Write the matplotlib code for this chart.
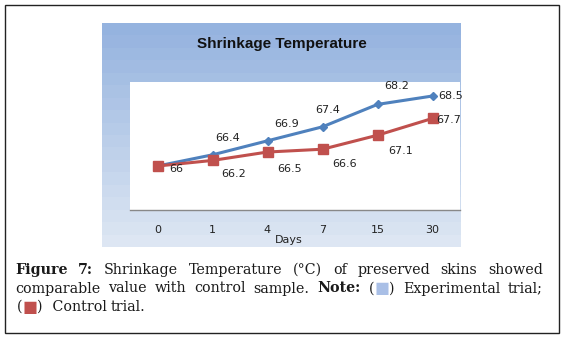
import numpy as np
import matplotlib
matplotlib.use("Agg")
import matplotlib.pyplot as plt
from matplotlib.patches import Rectangle

# data
days = ["0", "1", "4", "7", "15", "30"]
experimental = [66.0, 66.4, 66.9, 67.4, 68.2, 68.5]
control = [66.0, 66.2, 66.5, 66.6, 67.1, 67.7]

W, H = 564, 337
fig = plt.figure(figsize=(W / 100, H / 100), dpi=100)
fig.patch.set_facecolor("white")


def box(x0, y0, x1, y1):
    # pixel box (top-left origin) -> figure fraction rect
    return [x0 / W, (H - y1) / H, (x1 - x0) / W, (y1 - y0) / H]


# outer frame around figure + caption
fig.add_artist(Rectangle((4.5 / W, (H - 333) / H), 554 / W, 328 / H,
                         transform=fig.transFigure, fill=False,
                         edgecolor="#222222", lw=1.0))

# chart background with stepped blue gradient
bg = fig.add_axes(box(102, 23, 461, 247))
steps = 18
top = np.array([0x95, 0xB3, 0xDF]) / 255
bot = np.array([0xDD, 0xE6, 0xF3]) / 255
t = np.linspace(0, 1, steps)[:, None]
grad = (top * (1 - t) + bot * t)[:, None, :]
bg.imshow(grad, aspect="auto", interpolation="nearest", extent=[0, 1, 0, 1])
bg.set_axis_off()
bg.text(0.5, 0.905, "Shrinkage Temperature", ha="center", va="center",
        fontsize=11, fontweight="bold", color="#111111",
        family=["Liberation Sans Narrow", "Liberation Sans", "DejaVu Sans"])

# plot area
ax = fig.add_axes(box(130, 82, 460, 210))
ax.set_facecolor("white")
x = np.arange(len(days))
ax.plot(x, experimental, color="#4F81BD", lw=2.2, marker="D", ms=4.5,
        zorder=3)
ax.plot(x, control, color="#C0504D", lw=2.2, marker="s", ms=7, zorder=4)

ax.set_xlim(-0.5, len(days) - 0.5)
ax.set_ylim(64.43, 69.0)
for s in ["top", "left", "right"]:
    ax.spines[s].set_visible(False)
ax.spines["bottom"].set_color("#888888")
ax.spines["bottom"].set_linewidth(1.0)
ax.set_yticks([])
ax.set_xticks(x)
ax.set_xticklabels(days, fontsize=8, color="#222222")
ax.tick_params(axis="x", length=0, pad=11)
ax.set_xlabel("Days", fontsize=8, color="#222222")
ax.xaxis.set_label_coords((288.5 - 130) / 330, -(240 - 210) / 128)
ax.xaxis.label.set_va("center")

lab_kw = dict(textcoords="offset pixels", fontsize=8, color="#222222",
              ha="center", va="center", zorder=5)
exp_off = [(19, -3), (15, 17), (19, 17), (5, 17), (19, 18), (18, 0)]
ctl_off = [(19, -3), (21, -14), (22, -17), (22, -15), (23, -16), (16, -2)]
for i, v in enumerate(experimental):
    if i == 0:
        continue
    ax.annotate(f"{v:g}", (x[i], v), xytext=exp_off[i], **lab_kw)
for i, v in enumerate(control):
    ax.annotate(f"{v:g}", (x[i], v), xytext=ctl_off[i], **lab_kw)

# caption, justified like the journal layout
serif = ["DejaVu Serif"]
cap_size = 10.3
blue_sq = "#A9BFE6"
red_sq = "#C0504D"
lines = [
    [[("Figure", "bold", "k")], [("7:", "bold", "k")], [("Shrinkage", "normal", "k")],
     [("Temperature", "normal", "k")], [("(°C)", "normal", "k")], [("of", "normal", "k")],
     [("preserved", "normal", "k")], [("skins", "normal", "k")], [("showed", "normal", "k")]],
    [[("comparable", "normal", "k")], [("value", "normal", "k")], [("with", "normal", "k")],
     [("control", "normal", "k")], [("sample.", "normal", "k")], [("Note:", "bold", "k")],
     [("(", "normal", "k"), ("■", "sq", blue_sq), (")", "normal", "k")],
     [("Experimental", "normal", "k")], [("trial;", "normal", "k")]],
    [[("(", "normal", "k"), ("■", "sq", red_sq), (")", "normal", "k")], [(" Control", "normal", "k")],
     [("trial.", "normal", "k")]],
]
line_y = [270, 288.5, 307]
x_left, x_right = 15, 543

renderer = fig.canvas.get_renderer()


def make(seg):
    txt, style, col = seg
    if style == "sq":
        return fig.text(0, 0, txt, fontsize=cap_size + 1, color=col,
                        family=["DejaVu Sans"], va="center", ha="left")
    return fig.text(0, 0, txt, fontsize=cap_size, color="#1a1a1a",
                    fontweight=style, family=serif, va="center", ha="left")


space_w = None
for li, words in enumerate(lines):
    objs = []
    widths = []
    for w in words:
        segs = [make(s) for s in w]
        ws = [o.get_window_extent(renderer).width for o in segs]
        objs.append((segs, ws))
        widths.append(sum(ws))
    if space_w is None:
        tmp = fig.text(0, 0, "a a", fontsize=cap_size, family=serif)
        tmp2 = fig.text(0, 0, "aa", fontsize=cap_size, family=serif)
        space_w = (tmp.get_window_extent(renderer).width
                   - tmp2.get_window_extent(renderer).width)
        tmp.remove()
        tmp2.remove()
    if li < 2:
        gap = (x_right - x_left - sum(widths)) / (len(words) - 1)
        cur = x_left
    else:
        gap = space_w
        cur = x_left + 2
    for segs, ws in objs:
        sx = cur
        for o, wdt in zip(segs, ws):
            o.set_position((sx / W, (H - line_y[li]) / H))
            sx += wdt
        cur += sum(ws) + gap

fig.savefig("out.png", dpi=100)
